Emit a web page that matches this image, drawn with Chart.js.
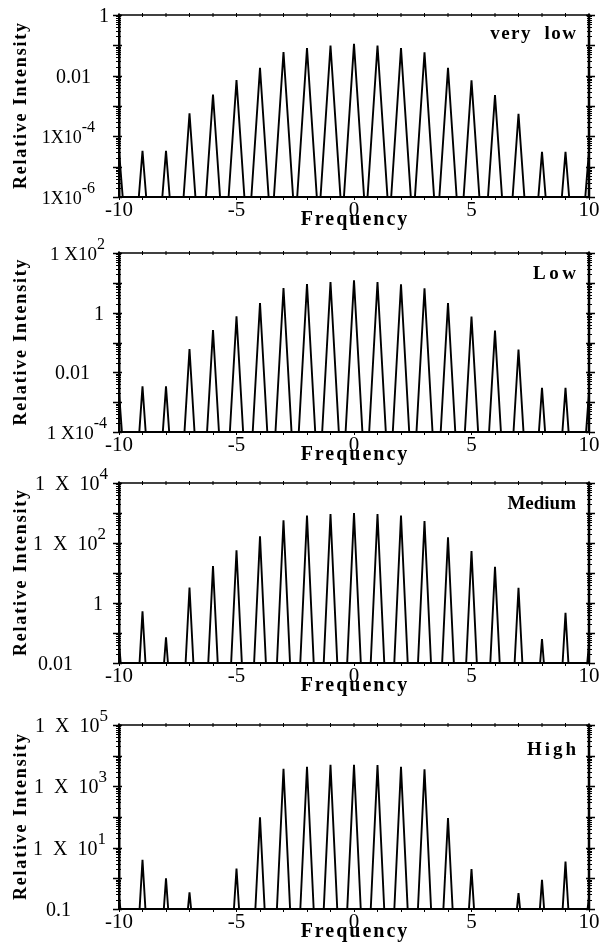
<!DOCTYPE html>
<html>
<head>
<meta charset="utf-8">
<script src="https://cdn.jsdelivr.net/npm/chart.js@4.4.1/dist/chart.umd.min.js"></script>
<style>
  html, body { margin: 0; padding: 0; background: #fff; }
  #wrap { position: relative; width: 611px; height: 947px; overflow: hidden; background: #fff; }
  #wrap canvas { position: absolute; left: 0; }
</style>
</head>
<body>
<div id="wrap"></div>
<script>
// Sideband frequencies (integer orders)
const frequencies = [-10, -9, -8, -7, -6, -5, -4, -3, -2, -1, 0, 1, 2, 3, 4, 5, 6, 7, 8, 9, 10];

// Peak relative intensity of each order, one list per drive level (null = no line)
const veryLowIntensity = [3.4e-5, 3.3e-5, 3.3e-5, 5.7e-4, 2.4e-3, 7.1e-3, 1.8e-2, 6.0e-2, 8.1e-2, 9.9e-2, 0.112,
                          9.9e-2, 8.1e-2, 5.9e-2, 1.8e-2, 7.0e-3, 2.3e-3, 5.5e-4, 3.1e-5, 3.1e-5, 3.4e-5];
const lowIntensity = [2.2e-3, 3.4e-3, 3.4e-3, 0.060, 0.26, 0.75, 2.1, 6.7, 9.1, 10.7, 12.1,
                      10.7, 9.0, 6.6, 2.1, 0.74, 0.25, 0.058, 3.0e-3, 3.0e-3, 2.2e-3];
const mediumIntensity = [0.047, 0.53, 0.072, 3.3, 17, 57, 166, 570, 830, 930, 1000,
                         930, 830, 540, 155, 54, 16, 3.2, 0.063, 0.47, 0.047];
const highIntensity = [0.25, 4.0, 1.0, 0.35, null, 2.1, 98, 3700, 4370, 5000, 5000,
                       4900, 4300, 3600, 93, 2.0, null, 0.33, 0.89, 3.5, 0.25];

// Axis tick labels
const xTickLabels = [-10, -5, 0, 5, 10];
const veryLowTickValues = [1, 0.01, 1e-4, 1e-6];
const veryLowTickText = ['1', '0.01', '1X10^-4', '1X10^-6'];
const lowTickValues = [1e2, 1, 0.01, 1e-4];
const lowTickText = ['1 X10^2', '1', '0.01', '1 X10^-4'];
const mediumTickValues = [1e4, 1e2, 1, 0.01];
const mediumTickText = ['1  X  10^4', '1  X  10^2', '1', '0.01'];
const highTickValues = [1e5, 1e3, 1e1, 0.1];
const highTickText = ['1  X  10^5', '1  X  10^3', '1  X  10^1', '0.1'];

const panelNames = ['very  low', 'Low', 'Medium', 'High'];
const xTitle = 'Frequency';
const yTitle = 'Relative Intensity';

// Layout / style
const SERIF = '"Liberation Serif", "Times New Roman", serif';
const PLOT_LEFT = 119, PLOT_RIGHT = 589, WIDTH = 611;
const panels = [
  { name: panelNames[0], values: veryLowIntensity, min: 1e-6, max: 1,   tv: veryLowTickValues, tt: veryLowTickText,
    gaps: [10, 28, 24, 24], font: { plain: 20, base: 18, sup: 16 },
    top: 15,  bottom: 197, steep: 13, nameDy: 19, nameSpacing: 1.5 },
  { name: panelNames[1], values: lowIntensity,     min: 1e-4, max: 1e2, tv: lowTickValues,     tt: lowTickText,
    gaps: [14, 15, 29, 12], font: { plain: 20, base: 19, sup: 16 },
    top: 253, bottom: 432, steep: 16, nameDy: 21, nameSpacing: 3.5 },
  { name: panelNames[2], values: mediumIntensity,  min: 1e-2, max: 1e4, tv: mediumTickValues,  tt: mediumTickText,
    gaps: [11, 13, 16, 46], font: { plain: 20, base: 20, sup: 17 },
    top: 483, bottom: 663, steep: 20, nameDy: 21, nameSpacing: 0 },
  { name: panelNames[3], values: highIntensity,    min: 1e-1, max: 1e5, tv: highTickValues,    tt: highTickText,
    gaps: [11, 12, 13, 48], font: { plain: 20, base: 20, sup: 17 },
    top: 725, bottom: 909, steep: 19, nameDy: 25, nameSpacing: 3 }
];

// Each line is drawn as a narrow triangle rising from the floor of the log axis
function spikePoints(values, floor, steep) {
  const pts = [];
  const floorDec = Math.log10(floor);
  frequencies.forEach((f, i) => {
    const v = values[i];
    if (v == null) return;
    const half = 0.04 + (Math.log10(v) - floorDec) / steep;
    pts.push({ x: f - half, y: floor }, { x: f, y: v }, { x: f + half, y: floor });
  });
  return pts;
}

function drawSpaced(ctx, text, x, y, spacing) {
  ctx.letterSpacing = spacing + 'px';
  ctx.fillText(text, x, y);
  ctx.letterSpacing = '0px';
}

// Frame, log ticks, tick labels with exponents, titles
const decorPlugin = {
  id: 'decor',
  afterDraw(chart, args, opts) {
    const p = opts.panel;
    const ctx = chart.ctx;
    const a = chart.chartArea;
    const ys = chart.scales.y, xs = chart.scales.x;
    ctx.save();
    ctx.strokeStyle = '#000';
    ctx.fillStyle = '#000';

    // top and right edges of the frame
    ctx.lineWidth = 1.5;
    ctx.beginPath(); ctx.moveTo(a.left, a.top); ctx.lineTo(a.right, a.top); ctx.stroke();
    ctx.lineWidth = 2.5;
    ctx.beginPath(); ctx.moveTo(a.right, a.top - 1); ctx.lineTo(a.right, a.bottom); ctx.stroke();

    // top ticks at each integer
    ctx.lineWidth = 1;
    frequencies.forEach(f => {
      const x = xs.getPixelForValue(f);
      ctx.beginPath(); ctx.moveTo(x, a.top - 2); ctx.lineTo(x, a.top + 2); ctx.stroke();
    });

    // log ticks on both sides
    const d0 = Math.round(Math.log10(p.min)), d1 = Math.round(Math.log10(p.max));
    for (let d = d0; d <= d1; d++) {
      for (let m = 1; m <= 9; m++) {
        const v = m * Math.pow(10, d);
        if (v > p.max * 1.0001) break;
        const y = Math.round(ys.getPixelForValue(v)) + 0.5;
        const major = m === 1;
        ctx.lineWidth = major ? 1.5 : 1;
        const out = major ? 6 : 3, inn = major ? 3 : 2;
        ctx.beginPath(); ctx.moveTo(a.left - out, y); ctx.lineTo(a.left + inn, y); ctx.stroke();
        ctx.beginPath(); ctx.moveTo(a.right - inn, y); ctx.lineTo(a.right + out, y); ctx.stroke();
      }
    }

    // y tick labels (base ^ exponent)
    p.tv.forEach((v, i) => {
      const y = ys.getPixelForValue(v);
      const parts = p.tt[i].split('^');
      const hasExp = parts.length > 1;
      const baseFont = (hasExp ? p.font.base : p.font.plain) + 'px ' + SERIF;
      const expFont = p.font.sup + 'px ' + SERIF;
      ctx.font = baseFont;
      const bw = ctx.measureText(parts[0]).width;
      ctx.font = expFont;
      const ew = hasExp ? ctx.measureText(parts[1]).width : 0;
      const right = a.left - p.gaps[i];
      const x0 = right - bw - ew;
      ctx.textBaseline = 'alphabetic';
      ctx.textAlign = 'left';
      ctx.font = baseFont;
      ctx.fillText(parts[0], x0, y + 7);
      if (hasExp) {
        ctx.font = expFont;
        ctx.fillText(parts[1], x0 + bw, y - 4);
      }
    });

    // panel name
    ctx.font = 'bold 19px ' + SERIF;
    ctx.textAlign = 'right';
    ctx.textBaseline = 'middle';
    drawSpaced(ctx, p.name, a.right - 13 + p.nameSpacing, a.top + p.nameDy, p.nameSpacing);

    // axis titles
    ctx.font = 'bold 20px ' + SERIF;
    ctx.textAlign = 'center';
    ctx.textBaseline = 'middle';
    drawSpaced(ctx, xTitle, (a.left + a.right) / 2 + 1, a.bottom + 23, 2);

    ctx.save();
    ctx.translate(21, (a.top + a.bottom) / 2);
    ctx.rotate(-Math.PI / 2);
    ctx.font = 'bold 18px ' + SERIF;
    drawSpaced(ctx, yTitle, 0.9, 0, 1.8);
    ctx.restore();

    ctx.restore();
  }
};

const wrap = document.getElementById('wrap');
panels.forEach(p => {
  const padTop = Math.min(p.top, 22);
  const bottomArea = 40;
  const h = (p.bottom - p.top) + padTop + bottomArea;
  const cv = document.createElement('canvas');
  cv.width = WIDTH; cv.height = h;
  cv.style.top = (p.top - padTop) + 'px';
  cv.style.width = WIDTH + 'px'; cv.style.height = h + 'px';
  wrap.appendChild(cv);

  new Chart(cv, {
    type: 'line',
    data: {
      datasets: [{
        data: spikePoints(p.values, p.min, p.steep),
        borderColor: '#000',
        borderWidth: 1.9,
        pointRadius: 0,
        tension: 0,
        fill: false
      }]
    },
    options: {
      responsive: false,
      animation: false,
      events: [],
      layout: { padding: { left: 0, right: WIDTH - PLOT_RIGHT, top: padTop, bottom: 0 } },
      plugins: { legend: { display: false }, tooltip: { enabled: false }, decor: { panel: p } },
      scales: {
        x: {
          type: 'linear', position: 'bottom', min: -10, max: 10,
          afterFit: s => { s.height = bottomArea; },
          afterBuildTicks: s => { s.ticks = frequencies.map(v => ({ value: v })); },
          ticks: {
            autoSkip: false, maxRotation: 0, padding: -2, color: '#000',
            font: { family: SERIF, size: 21 },
            callback: v => xTickLabels.includes(v) ? String(v) : ''
          },
          grid: { display: true, drawOnChartArea: false, drawTicks: true, tickLength: 3, color: '#000', lineWidth: 1 },
          border: { display: true, color: '#000', width: 2 }
        },
        y: {
          type: 'logarithmic', position: 'left', min: p.min, max: p.max,
          afterFit: s => { s.width = PLOT_LEFT; },
          ticks: { display: false },
          grid: { display: false },
          border: { display: true, color: '#000', width: 2.5 }
        }
      }
    },
    plugins: [decorPlugin]
  });
});
</script>
</body>
</html>
